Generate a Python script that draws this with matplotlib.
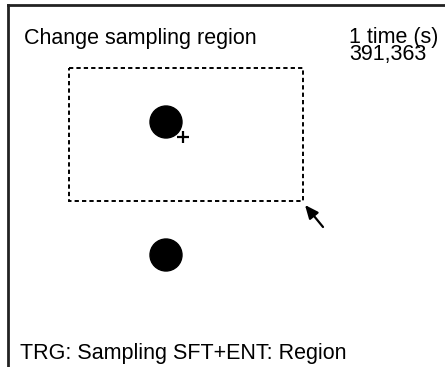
import matplotlib
matplotlib.use("Agg")
import matplotlib.pyplot as plt
from matplotlib.patches import Rectangle, Circle

# screen contents (pixel coordinates, y downwards)
title = "Change sampling region"
count_label = "1 time (s)"
count_value = "391,363"
footer = "TRG: Sampling SFT+ENT: Region"

region = [69, 68, 303, 201]          # x0, y0, x1, y1
spots_x = [166, 166]
spots_y = [122, 255]
spot_r = 16
cursor = (183, 137)
arrow_tip = (305, 205)
arrow_tail = (323, 227)

plt.rcParams["font.family"] = ["Liberation Sans", "DejaVu Sans"]

fig = plt.figure(figsize=(4.45, 3.67), dpi=100)
ax = fig.add_axes([0, 0, 1, 1])
ax.set_xlim(0, 445)
ax.set_ylim(367, 0)
ax.axis("off")

# screen frame: top and left edges
ax.plot([7.5, 445], [4.5, 4.5], color="#222222", lw=2)
ax.plot([7.5, 7.5], [4.5, 367], color="#222222", lw=2)

x0, y0, x1, y1 = region
ax.add_patch(Rectangle((x0, y0), x1 - x0, y1 - y0, fill=False,
                       ec="black", lw=1.4, ls=(0, (2.2, 1.6))))

for x, y in zip(spots_x, spots_y):
    ax.add_patch(Circle((x, y), spot_r, color="black"))

ax.plot(*cursor, marker="+", color="black", ms=8, mew=1.6)

ax.annotate("", xy=arrow_tip, xytext=arrow_tail,
            arrowprops=dict(arrowstyle="-|>,head_length=0.8,head_width=0.35",
                            color="black", lw=1.6, shrinkA=0, shrinkB=0))

fs = 15.5
ax.text(24, 44, title, fontsize=fs, va="baseline")
ax.text(349, 60, count_label + "\n" + count_value, fontsize=fs,
        va="baseline", linespacing=0.75)
ax.text(20, 359, footer, fontsize=fs, va="baseline")

plt.savefig("out.png", dpi=100)
plt.close()
